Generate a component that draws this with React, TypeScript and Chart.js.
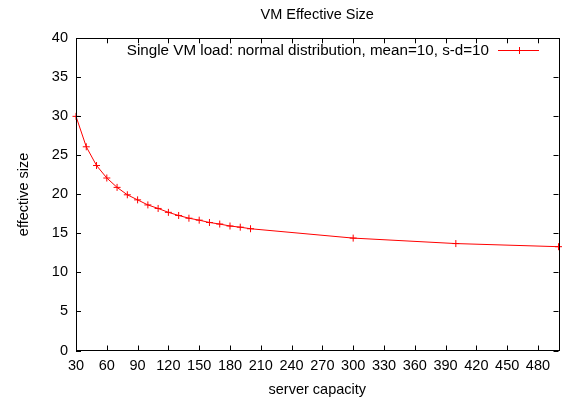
import React, { useEffect, useRef } from "react";
import { Chart, registerables } from "chart.js";

Chart.register(...registerables);

const capacity = [30, 40, 50, 60, 70, 80, 90, 100, 110, 120, 130, 140, 150, 160, 170, 180, 190, 200, 300, 400, 500];
const effectiveSize = [30.0, 26.1, 23.7, 22.1, 20.9, 19.95, 19.3, 18.65, 18.2, 17.7, 17.3, 16.95, 16.7, 16.4, 16.2, 15.95, 15.8, 15.6, 14.4, 13.7, 13.3];
const xTicks = [30, 60, 90, 120, 150, 180, 210, 240, 270, 300, 330, 360, 390, 420, 450, 480];
const yTicks = [0, 5, 10, 15, 20, 25, 30, 35, 40];
const seriesLabel = "Single VM load: normal distribution, mean=10, s-d=10";
const chartTitle = "VM Effective Size";
const xTitle = "server capacity";
const yTitle = "effective size";

const FONT = "'Liberation Sans', Arial, sans-serif";
const RED = "#ff0000";

const framePlugin = {
  id: "gnuplotFrame",
  afterDraw(chart: any) {
    const { ctx, chartArea } = chart;
    const { left, right, top, bottom } = chartArea;
    const xs = chart.scales.x;
    const ys = chart.scales.y;
    ctx.save();
    ctx.strokeStyle = "#000";
    ctx.lineWidth = 1;
    ctx.beginPath();
    const tl = 5;
    xTicks.forEach((v) => {
      const px = Math.round(xs.getPixelForValue(v)) + 0.5;
      ctx.moveTo(px, bottom);
      ctx.lineTo(px, bottom - tl);
      ctx.moveTo(px, top);
      ctx.lineTo(px, top + tl);
    });
    yTicks.forEach((v) => {
      const py = Math.round(ys.getPixelForValue(v)) + 0.5;
      ctx.moveTo(left, py);
      ctx.lineTo(left + tl, py);
      ctx.moveTo(right, py);
      ctx.lineTo(right - tl, py);
    });
    ctx.stroke();
    ctx.strokeRect(Math.round(left) + 0.5, Math.round(top) + 0.5, Math.round(right - left), Math.round(bottom - top));

    // title centred over the plot area (gnuplot style)
    ctx.fillStyle = "#000";
    ctx.font = `14.5px ${FONT}`;
    ctx.textAlign = "center";
    ctx.textBaseline = "middle";
    ctx.fillText(chartTitle, (left + right) / 2, 15);

    // legend (inside top-right, gnuplot style)
    const ly = Math.round(top + 12) + 0.5;
    const lineEnd = right - 19.5;
    const lineStart = right - 60.5;
    ctx.font = `15.2px ${FONT}`;
    ctx.textAlign = "right";
    ctx.fillText(seriesLabel, right - 69.5, ly);
    ctx.strokeStyle = RED;
    ctx.beginPath();
    ctx.moveTo(lineStart, ly);
    ctx.lineTo(lineEnd, ly);
    const mx = Math.round((lineStart + lineEnd) / 2) + 0.5;
    ctx.moveTo(mx - 3.5, ly);
    ctx.lineTo(mx + 3.5, ly);
    ctx.moveTo(mx, ly - 3.5);
    ctx.lineTo(mx, ly + 3.5);
    ctx.stroke();
    ctx.restore();
  },
};

export default function App() {
  const ref = useRef<HTMLCanvasElement | null>(null);
  useEffect(() => {
    if (!ref.current) return;
    const chart = new Chart(ref.current, {
      type: "line",
      data: {
        datasets: [
          {
            label: seriesLabel,
            data: capacity.map((c, i) => ({ x: c, y: effectiveSize[i] })),
            borderColor: RED,
            backgroundColor: RED,
            borderWidth: 1,
            pointStyle: "cross",
            pointRadius: 3.5,
            pointBorderWidth: 1,
            pointBorderColor: RED,
            tension: 0,
            fill: false,
            clip: false,
          },
        ],
      },
      options: {
        animation: false,
        responsive: true,
        maintainAspectRatio: false,
        layout: { padding: { left: 0, right: 8.5, top: 38.3, bottom: 0 } },
        plugins: {
          legend: { display: false },
          tooltip: { enabled: false },
          title: { display: false },
        },
        scales: {
          x: {
            type: "linear",
            min: 30,
            max: 500,
            grid: { display: false, drawTicks: false },
            border: { display: false },
            afterBuildTicks: (scale: any) => {
              scale.ticks = xTicks.map((v) => ({ value: v }));
            },
            afterFit: (scale: any) => {
              scale.height = 47.5;
            },
            ticks: {
              color: "#000",
              font: { family: FONT, size: 14.5 },
              padding: 7,
              maxRotation: 0,
              autoSkip: false,
            },
            title: {
              display: true,
              text: xTitle,
              color: "#000",
              font: { family: FONT, size: 14.5, lineHeight: 1 },
              padding: { top: 0, bottom: 0.5 },
            },
          },
          y: {
            type: "linear",
            min: 0,
            max: 40,
            grid: { display: false, drawTicks: false },
            border: { display: false },
            afterBuildTicks: (scale: any) => {
              scale.ticks = yTicks.map((v) => ({ value: v }));
            },
            afterFit: (scale: any) => {
              scale.width = 76;
            },
            ticks: {
              color: "#000",
              font: { family: FONT, size: 14.5 },
              padding: 8,
            },
            title: {
              display: true,
              text: yTitle,
              color: "#000",
              font: { family: FONT, size: 14.5, lineHeight: 1 },
              padding: { top: 17, bottom: 0 },
            },
          },
        },
      },
      plugins: [framePlugin],
    });
    return () => chart.destroy();
  }, []);
  return (
    <div style={{ position: "fixed", left: 0, top: 0, width: 567, height: 398, background: "#fff" }}>
      <canvas ref={ref} />
    </div>
  );
}
